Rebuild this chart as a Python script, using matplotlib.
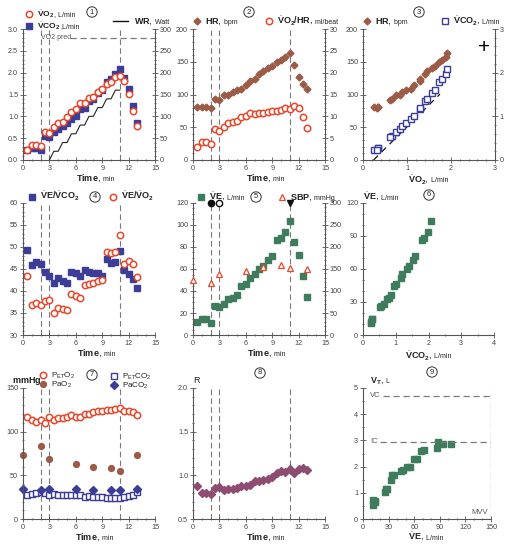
import matplotlib
matplotlib.use("Agg")
import matplotlib.pyplot as plt
from matplotlib.ticker import MultipleLocator
from matplotlib.lines import Line2D

plt.rcParams['font.family'] = ['Liberation Sans', 'DejaVu Sans']
plt.rcParams['mathtext.fontset'] = 'custom'
plt.rcParams['mathtext.rm'] = 'Liberation Sans'
plt.rcParams['mathtext.it'] = 'Liberation Sans:italic'
plt.rcParams['mathtext.bf'] = 'Liberation Sans:bold'

# breath data, every 30 s: rest 0-2, unloaded 2-3, ramp 3-11, recovery after
time = [0.5, 1.0, 1.5, 2.0, 2.5, 3.0, 3.5, 4.0, 4.5, 5.0, 5.5, 6.0, 6.5,
        7.0, 7.5, 8.0, 8.5, 9.0, 9.5, 10.0, 10.5, 11.0, 11.5, 12.0, 12.5, 13.0]
vo2 = [0.24, 0.34, 0.34, 0.31, 0.65, 0.61, 0.76, 0.85, 0.88, 0.98, 1.09, 1.16, 1.30,
       1.30, 1.41, 1.45, 1.56, 1.63, 1.73, 1.79, 1.89, 1.92, 1.81, 1.51, 1.13, 0.79]
vco2 = [0.24, 0.28, 0.28, 0.23, 0.56, 0.53, 0.63, 0.72, 0.79, 0.84, 0.95, 1.00, 1.16,
        1.20, 1.34, 1.39, 1.53, 1.60, 1.79, 1.85, 1.98, 2.08, 1.88, 1.62, 1.24, 0.84]
hr = [81, 81, 81, 80, 93, 92, 99, 99, 104, 107, 109, 114, 120,
      124, 132, 136, 140, 144, 149, 153, 157, 164, 145, 127, 116, 108]
o2_pulse = [3.0, 4.2, 4.2, 3.7, 7.0, 6.7, 7.6, 8.5, 8.6, 9.0, 9.8, 10.1, 10.7,
            10.5, 10.7, 10.8, 11.0, 11.3, 11.3, 11.5, 11.8, 11.6, 12.4, 12.0, 9.8, 7.3]
ve_vco2 = [49.4, 45.8, 46.5, 46.2, 44.4, 43.4, 41.8, 42.9, 42.3, 41.9, 44.4, 44.2, 43.3,
           44.7, 44.3, 44.2, 44.0, 43.4, 47.2, 46.3, 46.7, 49.0, 44.7, 43.9, 42.8, 40.6]
ve_vo2 = [43.4, 36.8, 37.2, 36.8, 37.8, 38.0, 34.9, 36.1, 35.9, 35.7, 39.3, 38.9, 38.4,
          41.4, 41.5, 41.9, 42.3, 42.5, 48.9, 48.6, 48.8, 52.8, 46.1, 46.9, 46.2, 43.1]
ve = [12.2, 14.6, 14.6, 11.2, 26.4, 25.8, 28.3, 32.5, 34.0, 36.5, 44.7, 46.5, 51.7,
      55.6, 59.9, 62.9, 68.4, 72.0, 86.6, 88.1, 93.3, 103.3, 84.2, 72.6, 53.8, 35.0]
peto2 = [116.8, 113.7, 111, 113, 110, 116.8, 113.7, 115.6, 115.6, 116.4, 118.7, 116.8, 116.8,
         120.2, 120.6, 122, 123.3, 124, 124.8, 124.8, 126, 126.7, 124, 123.3, 122, 119.5]
petco2 = [27.9, 28.6, 29.8, 30.5, 29.8, 27.9, 28.6, 27.9, 27.9, 27.9, 27.1, 27.9, 27.9,
          24.8, 26, 24.8, 24.8, 24.8, 24, 24, 24, 24, 24.8, 26, 27.1, 30.5]
rer = [0.88, 0.80, 0.80, 0.79, 0.85, 0.87, 0.83, 0.84, 0.84, 0.85, 0.88, 0.88, 0.89,
       0.93, 0.94, 0.95, 0.96, 0.98, 1.03, 1.05, 1.04, 1.07, 1.03, 1.07, 1.08, 1.06]
# tidal volume, exercise points only (to 11 min)
vt = [0.55, 0.70, 0.65, 0.74, 1.16, 1.02, 1.15, 1.48, 1.69, 1.67, 1.82,
      1.88, 1.97, 1.97, 2.29, 2.29, 2.58, 2.63, 2.70, 2.95, 2.86, 2.88]
n_ex = 22

# arterial samples / blood pressure
sample_time = [0, 2, 3, 6, 8, 10, 11, 13]
sbp = [124, 118, 139, 146, 154, 159, 152, 150]
pao2 = [73, 84, 69, 63, 60, 58, 55, 73]
paco2 = [34.4, 33.6, 34.7, 34.7, 33.2, 33.2, 33.2, 34.0]

# work rate staircase
wr_time = [3, 3.5, 4, 4.5, 5, 5.5, 6, 6.5, 7, 7.5, 8, 8.5, 9, 9.5, 10, 10.5, 11]
wr_watts = [0, 20, 20, 40, 40, 60, 60, 80, 80, 100, 100, 120, 120, 140, 140, 160, 160]

phases = [2, 3, 11]
vo2_pred = 2.8
vc, ic, mvv = 4.7, 2.95, 150
slope_x = [0.24, 1.75]

RED = '#E8482C'
NAVY = '#3B3D97'
BROWN = '#9C5B46'
GREEN = '#3F7C5D'
MAUVE = '#8D4C70'
GREY = '#7A7A7A'
TXT = '#222222'

W, H = 528, 548
fig = plt.figure(figsize=(W / 100, H / 100), dpi=100)
renderer = fig.canvas.get_renderer()

ex_vo2 = vo2[:n_ex]
ex_vco2 = vco2[:n_ex]
ex_hr = hr[:n_ex]
ex_ve = ve[:n_ex]

circ = dict(ls='none', marker='o', ms=4.6, mfc='white', mec=RED, mew=1.1)
sq = dict(ls='none', marker='s', ms=4.0, color=NAVY)
osq = dict(ls='none', marker='s', ms=4.0, mfc='white', mec=NAVY, mew=1)
dia = dict(ls='none', marker='D', ms=3.5, color=BROWN)
gsq = dict(ls='none', marker='s', ms=4.0, color=GREEN)


def style_ticks(ax):
    ax.tick_params(which='both', direction='inout', colors='#555555', labelsize=5.2,
                   labelcolor='#444444', width=0.6, pad=1.5)
    ax.tick_params(which='major', length=4)
    ax.tick_params(which='minor', length=2)


def make_axes(l, t, r, b):
    ax = fig.add_axes([l / W, 1 - b / H, (r - l) / W, (b - t) / H])
    for s in ['top', 'right']:
        ax.spines[s].set_visible(False)
    for s in ['left', 'bottom']:
        ax.spines[s].set_color('#555555')
        ax.spines[s].set_linewidth(0.8)
    style_ticks(ax)
    return ax


def right_axes(ax):
    tw = ax.twinx()
    for s in ['top', 'left', 'bottom']:
        tw.spines[s].set_visible(False)
    tw.spines['right'].set_color('#555555')
    tw.spines['right'].set_linewidth(0.8)
    style_ticks(tw)
    return tw


def time_axis(ax):
    ax.set_xlim(0, 15)
    ax.xaxis.set_major_locator(MultipleLocator(3))
    ax.xaxis.set_minor_locator(MultipleLocator(1))
    for p in phases:
        ax.axvline(p, color=GREY, lw=0.8, dashes=(5, 3), zorder=1)


def mixed(x, y, main, unit='', size=6.5, usize=5, color=TXT):
    # bold main part followed by a smaller unit on the same baseline
    t = fig.text(x / W, 1 - y / H, main, fontsize=size, va='baseline', color=color)
    if unit:
        bb = t.get_window_extent(renderer)
        fig.text(bb.x1 / W, 1 - y / H, unit, fontsize=usize, va='baseline', color=color)
    return t


def key(x, y, text, unit='', size=6.5, **style):
    fig.add_artist(Line2D([x / W], [1 - y / H], transform=fig.transFigure, **style))
    mixed(x + 8, y + 2.5, text, unit, size=size)


def number(x, y, s):
    fig.text(x / W, 1 - y / H, s, fontsize=5.5, ha='center', va='center', color=TXT,
             bbox=dict(boxstyle='circle,pad=0.22', fc='white', ec='#333333', lw=0.7))


VO2 = r'$\dot{\mathbf{V}}\mathbf{O_2}$'
VCO2 = r'$\dot{\mathbf{V}}\mathbf{CO_2}$'
VE = r'$\dot{\mathbf{V}}\mathbf{E}$'

# ---- panel 1
ax1 = make_axes(23, 29, 155, 160)
time_axis(ax1)
ax1.set_ylim(0, 3)
ax1.yaxis.set_major_locator(MultipleLocator(0.5))
ax1.yaxis.set_minor_locator(MultipleLocator(0.1))
ax1.yaxis.set_major_formatter('{x:.1f}')
ax1.plot(time, vco2, **sq)
ax1.plot(time, vo2, **circ)
ax1.plot([5.3, 15], [vo2_pred, vo2_pred], color=GREY, lw=0.9, dashes=(5, 3))
ax1.text(2.1, vo2_pred, 'VO2 pred', fontsize=5, color='#555555', va='center')
ax1r = right_axes(ax1)
ax1r.set_ylim(0, 300)
ax1r.yaxis.set_major_locator(MultipleLocator(50))
ax1r.yaxis.set_minor_locator(MultipleLocator(10))
ax1r.plot(wr_time, wr_watts, color='#222222', lw=0.8)

# ---- panel 2
ax2 = make_axes(193, 29, 325, 160)
time_axis(ax2)
ax2.set_ylim(0, 200)
ax2.yaxis.set_major_locator(MultipleLocator(50))
ax2.yaxis.set_minor_locator(MultipleLocator(10))
ax2.plot(time, hr, **dia)
ax2r = right_axes(ax2)
ax2r.set_ylim(0, 30)
ax2r.yaxis.set_major_locator(MultipleLocator(5))
ax2r.yaxis.set_minor_locator(MultipleLocator(1))
ax2r.plot(time, o2_pulse, **circ)

# ---- panel 3
ax3 = make_axes(363, 29, 495, 160)
ax3.set_xlim(0, 3)
ax3.set_ylim(0, 200)
ax3.xaxis.set_major_locator(MultipleLocator(1))
ax3.xaxis.set_minor_locator(MultipleLocator(0.2))
ax3.yaxis.set_major_locator(MultipleLocator(50))
ax3.yaxis.set_minor_locator(MultipleLocator(10))
ax3.plot(ex_vo2, ex_hr, **dia)
ax3r = right_axes(ax3)
ax3r.set_ylim(0, 3)
ax3r.yaxis.set_major_locator(MultipleLocator(1))
ax3r.yaxis.set_minor_locator(MultipleLocator(0.2))
ax3r.plot(slope_x, [x - slope_x[0] for x in slope_x], color='#111111', lw=0.9, dashes=(5, 4))
ax3r.plot(ex_vo2, ex_vco2, **osq)
ax3.text(0.92, 0.855, '+', transform=ax3.transAxes, fontsize=15, ha='center', va='center')

# ---- panel 4
ax4 = make_axes(23, 203, 155, 335)
time_axis(ax4)
ax4.set_ylim(30, 60)
ax4.yaxis.set_major_locator(MultipleLocator(5))
ax4.yaxis.set_minor_locator(MultipleLocator(1))
ax4.plot(time, ve_vco2, **sq)
ax4.plot(time, ve_vo2, **circ)

# ---- panel 5
ax5 = make_axes(193, 203, 325, 335)
time_axis(ax5)
ax5.set_ylim(0, 120)
ax5.yaxis.set_major_locator(MultipleLocator(20))
ax5.yaxis.set_minor_locator(MultipleLocator(5))
ax5.plot(time, ve, **gsq)
ax5.plot([2], [120], ls='none', marker='o', ms=4.5, color='#111111', clip_on=False, zorder=5)
ax5.plot([3], [120], ls='none', marker='o', ms=4.5, mfc='white', mec='#111111', clip_on=False, zorder=5)
ax5.plot([11], [120], ls='none', marker='v', ms=5, color='#111111', clip_on=False, zorder=5)
ax5r = right_axes(ax5)
ax5r.set_ylim(0, 300)
ax5r.yaxis.set_major_locator(MultipleLocator(50))
ax5r.yaxis.set_minor_locator(MultipleLocator(10))
ax5r.plot(sample_time, sbp, ls='none', marker='^', ms=4.6, mfc='white', mec=RED, mew=0.9,
          clip_on=False)

# ---- panel 6
ax6 = make_axes(363, 203, 494, 335)
ax6.set_xlim(0, 4)
ax6.set_ylim(0, 120)
ax6.xaxis.set_major_locator(MultipleLocator(1))
ax6.xaxis.set_minor_locator(MultipleLocator(0.5))
ax6.yaxis.set_major_locator(MultipleLocator(30))
ax6.yaxis.set_minor_locator(MultipleLocator(10))
ax6.plot(ex_vco2, ex_ve, **gsq)

# ---- panel 7
ax7 = make_axes(23, 388, 155, 519)
time_axis(ax7)
ax7.set_ylim(0, 150)
ax7.yaxis.set_major_locator(MultipleLocator(50))
ax7.yaxis.set_minor_locator(MultipleLocator(10))
ax7.plot(time, peto2, **circ)
ax7.plot(time, petco2, **osq)
ax7.plot(sample_time, pao2, ls='none', marker='o', ms=4.2, color=BROWN, clip_on=False)
ax7.plot(sample_time, paco2, ls='none', marker='D', ms=3.6, color=NAVY, clip_on=False)

# ---- panel 8
ax8 = make_axes(193, 388, 325, 519)
time_axis(ax8)
ax8.set_ylim(0.5, 2.0)
ax8.yaxis.set_major_locator(MultipleLocator(0.5))
ax8.yaxis.set_minor_locator(MultipleLocator(0.1))
ax8.yaxis.set_major_formatter('{x:.1f}')
ax8.plot(time, rer, ls='none', marker='D', ms=3.6, color=MAUVE)

# ---- panel 9
ax9 = make_axes(363, 388, 491, 519)
ax9.set_xlim(0, 150)
ax9.set_ylim(0, 5)
ax9.xaxis.set_major_locator(MultipleLocator(30))
ax9.xaxis.set_minor_locator(MultipleLocator(10))
ax9.yaxis.set_major_locator(MultipleLocator(1))
ax9.yaxis.set_minor_locator(MultipleLocator(0.5))
ax9.plot(ex_ve, vt, **gsq)
ax9.plot([23, 150], [vc, vc], color=GREY, lw=0.9, dashes=(5, 3))
ax9.plot([20, 150], [ic, ic], color=GREY, lw=0.9, dashes=(5, 3))
ax9.axvline(mvv, color=GREY, lw=0.9, dashes=(5, 3))
ax9.text(8, vc, 'VC', fontsize=5.5, color='#555555', va='center')
ax9.text(8, ic, 'IC', fontsize=5.5, color='#555555', va='center')
ax9.text(137, 0.25, 'MVV', fontsize=5.5, color='#555555', ha='center', va='center')

# ---- legends and labels
key(29, 14, VO2, ', L/min', size=6, **circ)
key(29, 26, VCO2, ',L/min', size=6, **sq)
fig.add_artist(Line2D([113 / W, 128 / W], [1 - 21 / H] * 2, transform=fig.transFigure,
                      color='#111111', lw=1))
mixed(134, 24, r'$\mathbf{WR}$,', ' Watt')

key(197, 21, r'$\mathbf{HR}$,', ' bpm', **dia)
key(269, 21, VO2 + r'$\mathbf{/HR}$,', ' ml/beat', **circ)
key(367, 21, r'$\mathbf{HR}$,', ' bpm', **dia)
key(445, 21, VCO2 + ',', ' L/min', **osq)

key(32, 197, VE + r'$\mathbf{/}$' + VCO2, **sq)
key(113, 197, VE + r'$\mathbf{/}$' + VO2, **circ)
key(201, 197, VE + ',', ' L/min', **gsq)
key(282, 197, r'$\mathbf{SBP}$,', ' mmHg', ls='none', marker='^', ms=4.6, mfc='white',
    mec=RED, mew=0.9)

key(43, 375, r'P$_{\rm ET}$O$_2$', size=5.8, **circ)
key(43, 384, r'PaO$_2$', size=5.8, ls='none', marker='o', ms=4.2, color=BROWN)
key(114, 376, r'P$_{\rm ET}$CO$_2$', size=5.8, **osq)
key(114, 385, r'PaCO$_2$', size=5.8, ls='none', marker='D', ms=3.6, color=NAVY)

mixed(12, 383, r'$\mathbf{mmHg}$')
mixed(193, 383, 'R')
mixed(370, 383, r'$\mathbf{V_T}$,', ' L')
mixed(363, 200, VE + ',', ' L/min')

for x0, yb in [(76, 181), (246, 181), (77, 356), (247, 356), (75, 540), (246, 540)]:
    mixed(x0, yb, r'$\mathbf{Time}$,', ' min')
mixed(408, 182, VO2 + ',', ' L/min')
mixed(405, 358, VCO2 + ',', ' L/min')
mixed(408, 540, VE + ',', ' L/min')

for x, y, s in [(92, 12, '1'), (249, 12, '2'), (419, 12, '3'),
                (95, 197, '4'), (256, 197, '5'), (429, 195, '6'),
                (92, 375, '7'), (260, 373, '8'), (432, 372, '9')]:
    number(x, y, s)

fig.savefig('out.png', dpi=100)
